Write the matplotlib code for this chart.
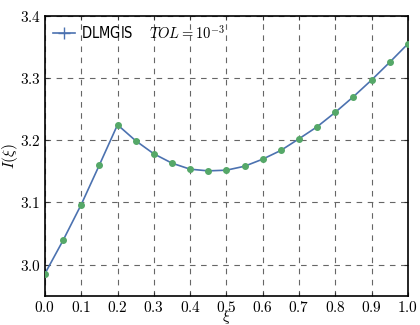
import matplotlib
matplotlib.use("Agg")
import matplotlib.pyplot as plt
from matplotlib.lines import Line2D

plt.rcParams['mathtext.fontset'] = 'cm'
plt.rcParams['font.family'] = 'DejaVu Sans'

xi = [0.0, 0.05, 0.1, 0.15, 0.2, 0.25, 0.3, 0.35, 0.4, 0.45, 0.5,
      0.55, 0.6, 0.65, 0.7, 0.75, 0.8, 0.85, 0.9, 0.95, 1.0]
I_xi = [2.9855, 3.039, 3.0965, 3.160, 3.2246, 3.199, 3.178, 3.163, 3.1533, 3.1506, 3.1517,
        3.158, 3.1694, 3.1834, 3.2021, 3.2214, 3.2446, 3.2697, 3.2965, 3.325, 3.3545]

xticks = [0.0, 0.1, 0.2, 0.3, 0.4, 0.5, 0.6, 0.7, 0.8, 0.9, 1.0]
yticks = [3.0, 3.1, 3.2, 3.3, 3.4]

blue = '#4C72B0'
green = '#55A868'

fig = plt.figure(figsize=(4.2, 3.25), dpi=100)
ax = fig.add_axes([0.107, 0.090, 0.864, 0.862])

ax.plot(xi, I_xi, '-', color=blue, lw=1.2)
ax.plot(xi, I_xi, 'o', color=green, ms=4, mec=green, zorder=3)

ax.set_xlim(0.0, 1.0)
ax.set_ylim(2.95, 3.4)
ax.set_xticks(xticks)
ax.set_xticklabels([f'${t:.1f}$' for t in xticks])
ax.set_yticks(yticks)
ax.set_yticklabels([f'${t:.1f}$' for t in yticks])
ax.tick_params(direction='in', length=3, labelsize=11, color='#333333',
               top=True, right=True)
ax.tick_params(axis='y', pad=3)
ax.tick_params(axis='x', pad=3)

ax.grid(True, ls=(0, (5, 5)), color='#666666', lw=0.8)
for s in ax.spines.values():
    s.set_linewidth(1.2)

ax.set_xlabel(r'$\xi$', fontsize=11)
ax.set_ylabel(r'$I(\xi)$', fontsize=11)
ax.xaxis.set_label_coords(0.5, -0.042)
ax.yaxis.set_label_coords(-0.068, 0.5)

handle = Line2D([], [], color=blue, marker='+', ms=9, mew=1.0, lw=1.2)
ax.legend([handle], [r'DLMGIS $\quad TOL = 10^{-3}$'], loc='upper left',
          frameon=False, prop={'size': 10.5, 'stretch': 'condensed'},
          handlelength=1.5, handletextpad=0.4, borderaxespad=0.15)

fig.savefig('out.png', dpi=100)
